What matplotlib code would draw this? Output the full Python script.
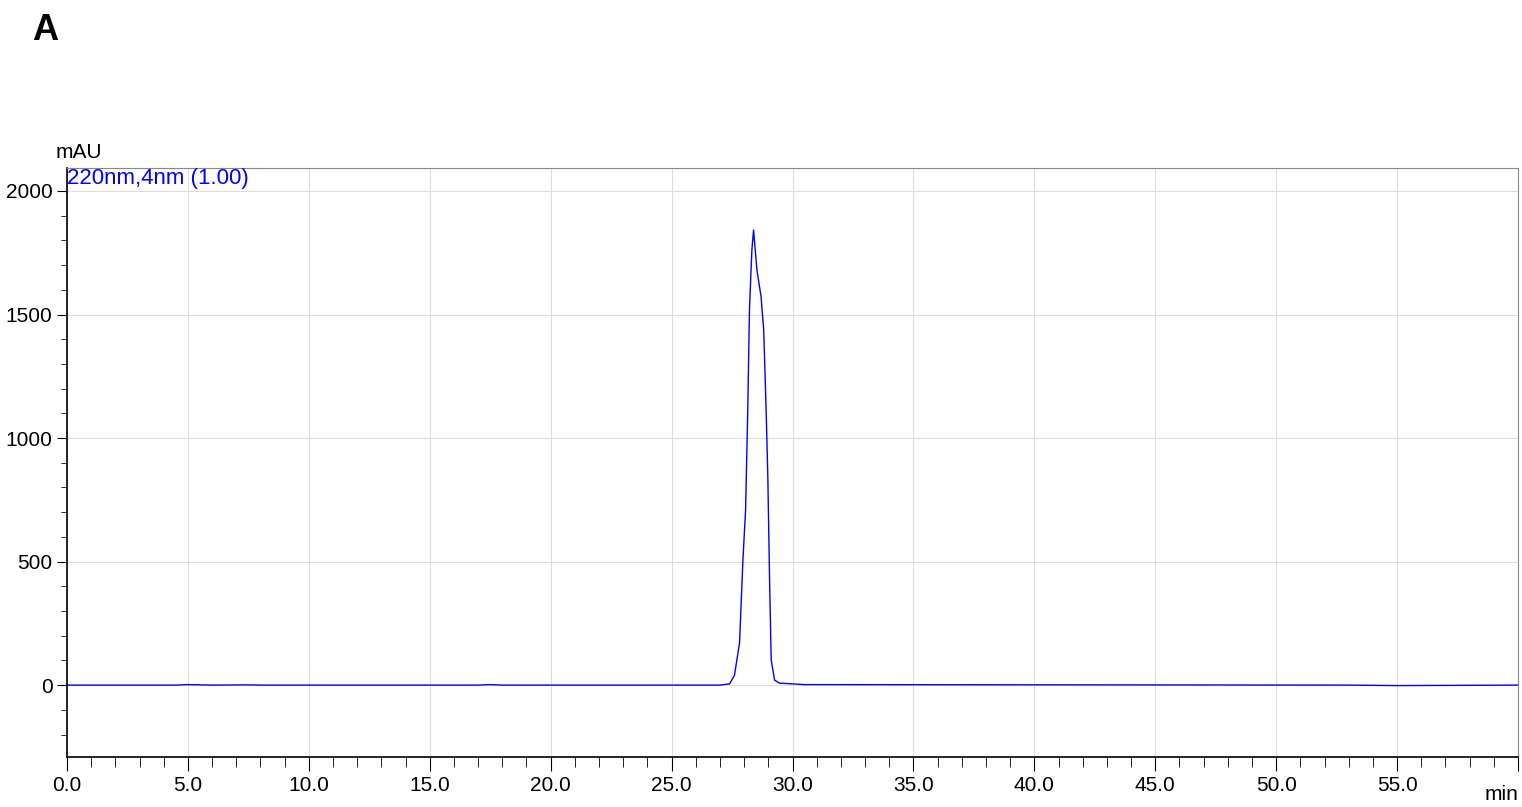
"""Chromatogram, 220 nm channel."""
import matplotlib.pyplot as plt
from matplotlib.ticker import MultipleLocator
import numpy as np

plt.rcParams["font.family"] = ["Liberation Sans Narrow", "Liberation Sans", "DejaVu Sans"]

# retention time (min) and absorbance (mAU)
time = [0.0, 4.5, 5.0, 6.0, 7.5, 8.0, 17.0, 17.5, 18.0, 27.0, 27.40, 27.60, 27.81, 27.95,
        28.06, 28.15, 28.22, 28.32, 28.39, 28.53, 28.70, 28.81, 28.91, 28.98, 29.05,
        29.12, 29.26, 29.46, 30.0, 30.5, 53.0, 55.0, 60.0]
mau = [0, 0, 2, 0, 1, 0, 0, 2, 0, 0, 5, 40, 170, 506,
       708, 1113, 1518, 1761, 1842, 1680, 1572, 1437, 1113, 842, 437,
       101, 20, 8, 5, 2, 0, -2, 0]

fig = plt.figure(figsize=(15.22, 8.07), dpi=100)
ax = fig.add_axes([67 / 1522, 1 - 757 / 807, (1518 - 67) / 1522, (757 - 168) / 807])
ax.plot(time, mau, color="#0000ff", lw=1.0)

ax.set_xlim(0, 60)
ax.set_ylim(-291, 2093)
ax.xaxis.set_major_locator(MultipleLocator(5))
ax.xaxis.set_minor_locator(MultipleLocator(1))
ax.yaxis.set_major_locator(MultipleLocator(500))
ax.yaxis.set_minor_locator(MultipleLocator(100))
ax.xaxis.set_major_formatter(lambda v, p: f"{v:.1f}")
ax.tick_params(axis="both", which="both", direction="out", color="black", labelsize=15)
ax.tick_params(axis="x", which="major", length=10, pad=4)
ax.tick_params(axis="x", which="minor", length=7)
ax.tick_params(axis="y", which="major", length=7)
ax.tick_params(axis="y", which="minor", length=4)
ax.grid(True, which="major", color="#dddddd", lw=0.8)
for s in ["top", "right"]:
    ax.spines[s].set_color("#888888")
ax.spines["left"].set_linewidth(1.2)
ax.spines["bottom"].set_linewidth(1.2)

ax.text(0.0, 1.0, "220nm,4nm (1.00)", transform=ax.transAxes, color="#0000ff",
        fontsize=16, va="top", ha="left")
fig.text(56 / 1522, 1 - 152 / 807, "mAU", fontsize=15, va="center")
fig.text(1518 / 1522, 1 - 795 / 807, "min", fontsize=15, va="center", ha="right")
fig.text(32 / 1522, 1 - 30 / 807, "A", fontsize=26, fontweight="bold", va="center",
         family="Liberation Sans")

# hide the 60.0 label, "min" takes its place
labels = ax.get_xticklabels()
fig.canvas.draw()
for t in ax.get_xticklabels():
    if t.get_text() == "60.0":
        t.set_visible(False)

fig.savefig("out.png", dpi=100)
